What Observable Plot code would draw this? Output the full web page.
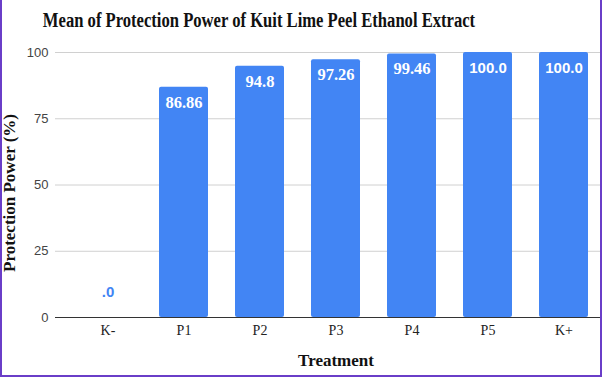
<!DOCTYPE html>
<html>
<head>
<meta charset="utf-8">
<script src="https://cdn.jsdelivr.net/npm/d3@7"></script>
<script src="https://cdn.jsdelivr.net/npm/@observablehq/plot@0.6"></script>
<style>
  html, body { margin: 0; padding: 0; background: #fff; }
  #wrap { position: relative; width: 602px; height: 377px; overflow: hidden; }
  #wrap svg { display: block; }
  .t { position: absolute; white-space: nowrap; font-family: "Liberation Serif", "Times New Roman", serif; font-weight: bold; color: #111; }
  #title { left: 258.5px; top: 20px; font-size: 20px; transform: translate(-50%, -50%) scaleX(0.83); }
  #ylab { left: 10px; top: 192.5px; font-size: 17px; transform: translate(-50%, -50%) rotate(-90deg); }
  #xlab { left: 336px; top: 361px; font-size: 17px; transform: translate(-50%, -50%); }
  #border { position: absolute; inset: 0; box-sizing: border-box; border-left: 2px solid #6a3dc8; border-right: 2px solid #6a3dc8; border-bottom: 2px solid #6a3dc8; pointer-events: none; }
</style>
</head>
<body>
<div id="wrap">
  <div id="chart"></div>
  <div class="t" id="title">Mean of Protection Power of Kuit Lime Peel Ethanol Extract</div>
  <div class="t" id="ylab">Protection Power (%)</div>
  <div class="t" id="xlab">Treatment</div>
  <div id="border"></div>
</div>
<script>
const categories = ["K-", "P1", "P2", "P3", "P4", "P5", "K+"];
const values = [0, 86.86, 94.8, 97.26, 99.46, 100, 100];
const valueLabels = [".0", "86.86", "94.8", "97.26", "99.46", "100.0", "100.0"];
const yTicks = [0, 25, 50, 75, 100];

const data = categories.map((c, i) => ({category: c, value: values[i], label: valueLabels[i]}));
const serifLabels = data.filter(d => d.value > 0 && d.value < 100);
const sansLabels = data.filter(d => d.value >= 100);
const zeroLabels = data.filter(d => d.value === 0);

const blue = "#4285f4";
const sans = "'Liberation Sans', Arial, sans-serif";
const serif = "'Liberation Serif', 'Times New Roman', serif";

const chart = Plot.plot({
  width: 602,
  height: 377,
  marginLeft: 55,
  marginRight: 2,
  marginTop: 52,
  marginBottom: 60,
  x: {domain: categories, range: [82.55, 589.3], paddingInner: 0.35, paddingOuter: 0, label: null},
  y: {domain: [0, 100], label: null},
  marks: [
    Plot.gridY(yTicks, {stroke: "#d0d0d0", strokeOpacity: 1}),
    Plot.axisY(yTicks, {tickSize: 0, tickPadding: 7, fontSize: 13, fontFamily: sans, fill: "#444", label: null}),
    Plot.axisX({tickSize: 0, tickPadding: 8, fontSize: 14, fontFamily: serif, fill: "#222", label: null}),
    Plot.barY(data, {x: "category", y: "value", fill: blue, rx: 2}),
    Plot.ruleY([0], {stroke: "#333", strokeWidth: 1}),
    Plot.text(serifLabels, {x: "category", y: "value", text: "label", dy: 15, fill: "white", fontWeight: "bold", fontFamily: serif, fontSize: 16.5}),
    Plot.text(sansLabels, {x: "category", y: "value", text: "label", dy: 16, fill: "white", fontWeight: "bold", fontFamily: sans, fontSize: 15}),
    Plot.text(zeroLabels, {x: "category", y: "value", text: "label", dy: -25, fill: blue, fontWeight: "bold", fontFamily: sans, fontSize: 15})
  ]
});
document.getElementById("chart").appendChild(chart);
</script>
</body>
</html>
